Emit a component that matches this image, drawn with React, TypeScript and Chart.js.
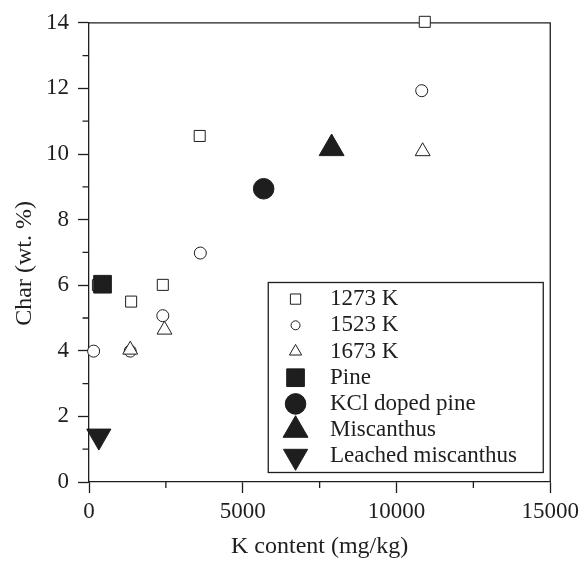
import React, { useEffect, useRef } from 'react';
import { Chart, registerables } from 'chart.js';
import { drawPoint } from 'chart.js/helpers';

Chart.register(...registerables);

// ---- data ----
const SERIES_LABELS = ['1273 K', '1523 K', '1673 K', 'Pine', 'KCl doped pine', 'Miscanthus', 'Leached miscanthus'];

const K1273_X = [290, 1370, 2400, 3600, 10920];
const K1273_Y = [6.0, 5.5, 6.01, 10.55, 14.03];

const K1523_X = [150, 1340, 2400, 3620, 10820];
const K1523_Y = [3.99, 3.99, 5.07, 6.98, 11.93];

const K1673_X = [1340, 2455, 10850];
const K1673_Y = [4.03, 4.64, 10.08];

const PINE_X = [440];
const PINE_Y = [6.03];

const KCL_X = [5680];
const KCL_Y = [8.94];

const MISC_X = [7890];
const MISC_Y = [10.17];

const LEACHED_X = [320];
const LEACHED_Y = [1.4];

const X_TICKS = [0, 5000, 10000, 15000];
const X_MINOR = [2500, 7500, 12500];
const Y_TICKS = [0, 2, 4, 6, 8, 10, 12, 14];
const Y_MINOR = [1, 3, 5, 7, 9, 11, 13];

const X_TITLE = 'K content (mg/kg)';
const Y_TITLE = 'Char (wt. %)';

// ---- style ----
const INK = '#1e1e1e';
const FONT = '"Liberation Serif", "Times New Roman", serif';

const pts = (xs: number[], ys: number[]) => xs.map((x, i) => ({ x, y: ys[i] }));

const openStyle = (pointStyle: string, r: number, order: number, legendScale: number) => ({
  pointStyle,
  pointRadius: r,
  pointHoverRadius: r,
  backgroundColor: '#ffffff',
  borderColor: INK,
  borderWidth: 1,
  order,
  clip: false as const,
  legendScale,
});

const filledStyle = (pointStyle: string, r: number, order: number, rotation = 0) => ({
  pointStyle,
  pointRadius: r,
  pointHoverRadius: r,
  rotation,
  backgroundColor: INK,
  borderColor: INK,
  borderWidth: 1,
  order,
  clip: false as const,
  legendScale: 1,
});

const boxPlugin = {
  id: 'boxAndMinor',
  beforeDatasetsDraw(chart: any, _args: any, opts: any) {
    const { ctx, chartArea, scales } = chart;
    const x = scales.x;
    const y = scales.y;
    ctx.save();
    ctx.strokeStyle = INK;
    ctx.lineWidth = 1.3;
    ctx.beginPath();
    ctx.moveTo(chartArea.left, chartArea.top);
    ctx.lineTo(chartArea.right, chartArea.top);
    ctx.lineTo(chartArea.right, chartArea.bottom);
    ctx.stroke();
    ctx.beginPath();
    for (const v of X_MINOR) {
      const px = x.getPixelForValue(v);
      ctx.moveTo(px, chartArea.bottom);
      ctx.lineTo(px, chartArea.bottom + 6);
    }
    for (const v of Y_MINOR) {
      const py = y.getPixelForValue(v);
      ctx.moveTo(chartArea.left, py);
      ctx.lineTo(chartArea.left - 6.5, py);
    }
    ctx.stroke();
    // y-axis title (drawn here to match its placement along the axis)
    ctx.fillStyle = INK;
    ctx.font = opts.yTitleFont;
    ctx.textAlign = 'center';
    ctx.textBaseline = 'middle';
    ctx.translate(opts.yTitleX, (y.top + y.bottom) / 2 + opts.yTitleShift);
    ctx.rotate(-Math.PI / 2);
    ctx.fillText(Y_TITLE, 0, 0);
    ctx.restore();
  },
};

const legendPlugin = {
  id: 'insideLegend',
  afterDatasetsDraw(chart: any, _args: any, opts: any) {
    const { ctx, chartArea } = chart;
    const right = chartArea.right - opts.marginRight;
    const bottom = chartArea.bottom - opts.marginBottom;
    const left = right - opts.width;
    const top = bottom - opts.height;
    ctx.save();
    ctx.fillStyle = '#ffffff';
    ctx.fillRect(left, top, opts.width, opts.height);
    ctx.strokeStyle = INK;
    ctx.lineWidth = 1.3;
    ctx.strokeRect(left, top, opts.width, opts.height);
    ctx.font = opts.font;
    ctx.textBaseline = 'middle';
    ctx.textAlign = 'left';
    chart.data.datasets.forEach((ds: any, i: number) => {
      const cy = top + opts.firstRow + i * opts.rowHeight;
      ctx.fillStyle = ds.backgroundColor;
      ctx.strokeStyle = ds.borderColor;
      ctx.lineWidth = ds.borderWidth;
      drawPoint(ctx, {
        pointStyle: ds.pointStyle,
        rotation: ds.rotation || 0,
        radius: ds.pointRadius * (ds.legendScale || 1),
        borderWidth: ds.borderWidth,
      } as any, left + opts.symbolX, cy);
      ctx.fillStyle = INK;
      ctx.fillText(ds.label, left + opts.textX, cy);
    });
    ctx.restore();
  },
};

export default function App() {
  const ref = useRef<HTMLCanvasElement>(null);
  useEffect(() => {
    if (!ref.current) return;
    const chart = new Chart(ref.current, {
      type: 'scatter',
      data: {
        datasets: [
          { label: SERIES_LABELS[0], data: pts(K1273_X, K1273_Y), ...openStyle('rect', 7.8, 7, 0.93) },
          { label: SERIES_LABELS[1], data: pts(K1523_X, K1523_Y), ...openStyle('circle', 6, 6, 0.75) },
          { label: SERIES_LABELS[2], data: pts(K1673_X, K1673_Y), ...openStyle('triangle', 8.6, 5, 0.82) },
          { label: SERIES_LABELS[3], data: pts(PINE_X, PINE_Y), ...filledStyle('rect', 12.5, 4) },
          { label: SERIES_LABELS[4], data: pts(KCL_X, KCL_Y), ...filledStyle('circle', 10.3, 3) },
          { label: SERIES_LABELS[5], data: pts(MISC_X, MISC_Y), ...filledStyle('triangle', 14.4, 2) },
          { label: SERIES_LABELS[6], data: pts(LEACHED_X, LEACHED_Y), ...filledStyle('triangle', 14, 1, 180) },
        ] as any,
      },
      options: {
        responsive: false,
        animation: false,
        events: [],
        layout: { padding: { top: 17, right: 31, left: 0, bottom: 0 } },
        plugins: {
          legend: { display: false },
          tooltip: { enabled: false },
          boxAndMinor: {
            yTitleFont: `24px ${FONT}`,
            yTitleX: 25,
            yTitleShift: 11,
          },
          insideLegend: {
            width: 275,
            height: 190,
            marginRight: 7,
            marginBottom: 9.5,
            firstRow: 16.6,
            rowHeight: 26.2,
            symbolX: 27.3,
            textX: 61.7,
            font: `23px ${FONT}`,
          },
        } as any,
        scales: {
          x: {
            type: 'linear',
            min: 0,
            max: 15000,
            afterBuildTicks: (s: any) => { s.ticks = X_TICKS.map((v) => ({ value: v })); },
            afterFit: (s: any) => { s.height = 79; },
            ticks: {
              color: INK,
              font: { family: FONT, size: 23 },
              padding: 5,
              maxRotation: 0,
              callback: (v: any) => String(v),
            },
            grid: { drawOnChartArea: false, drawTicks: true, tickLength: 11, tickColor: INK, tickWidth: 1.3 },
            border: { color: INK, width: 1.3 },
            title: { display: true, text: X_TITLE, color: INK, font: { family: FONT, size: 24 }, padding: { top: 0, bottom: 0 } },
          },
          y: {
            type: 'linear',
            min: 0,
            max: 14,
            afterBuildTicks: (s: any) => { s.ticks = Y_TICKS.map((v) => ({ value: v })); },
            afterFit: (s: any) => { s.width = 89; },
            ticks: {
              color: INK,
              font: { family: FONT, size: 23 },
              padding: 9,
              callback: (v: any) => String(v),
            },
            grid: { drawOnChartArea: false, drawTicks: true, tickLength: 11, tickColor: INK, tickWidth: 1.3 },
            border: { color: INK, width: 1.3 },
            title: { display: false, text: Y_TITLE },
          },
        },
      },
      plugins: [boxPlugin, legendPlugin],
    } as any);
    return () => chart.destroy();
  }, []);

  return (
    <div style={{ position: 'fixed', left: 0, top: 0, width: 584, height: 561, background: '#ffffff' }}>
      <canvas ref={ref} width={584} height={561} style={{ display: 'block', width: 584, height: 561 }} />
    </div>
  );
}
